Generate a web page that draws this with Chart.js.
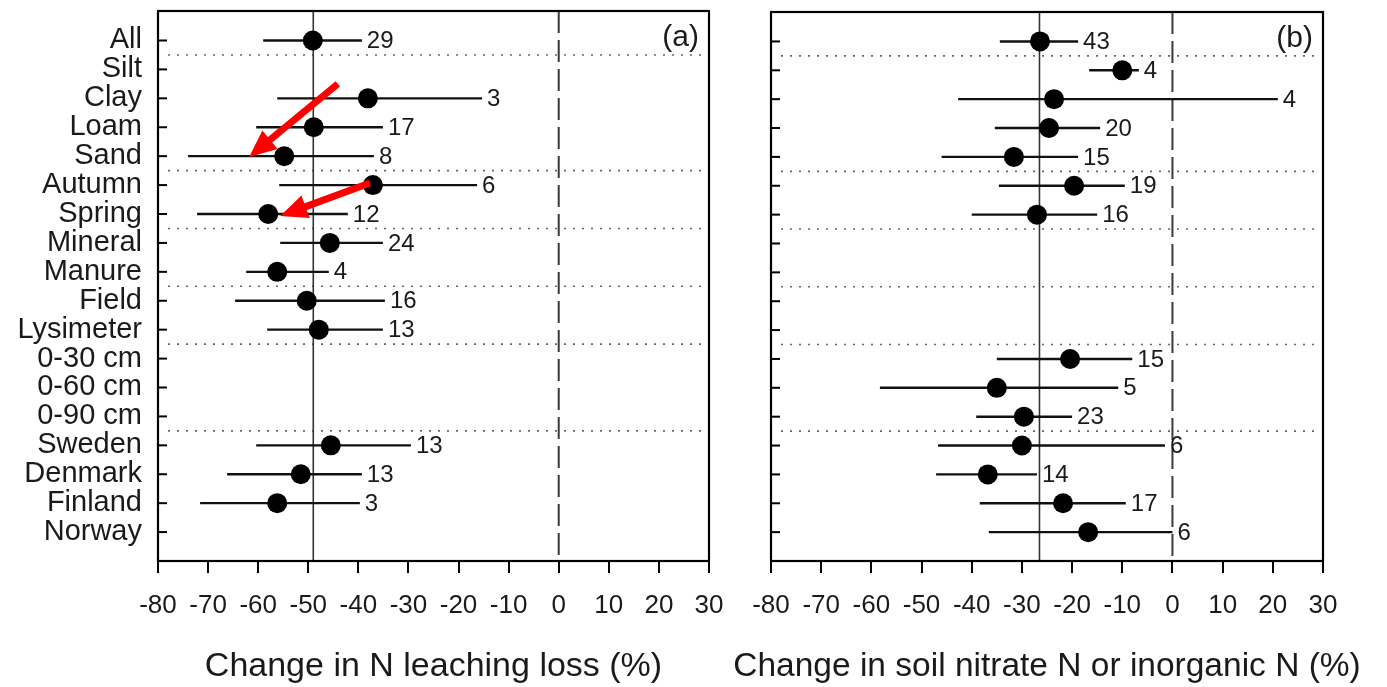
<!DOCTYPE html>
<html>
<head>
<meta charset="utf-8">
<script src="https://cdn.jsdelivr.net/npm/chart.js@4.4.1/dist/chart.umd.min.js"></script>
<style>
  html,body{margin:0;padding:0;background:#fff;}
  body{width:1387px;height:687px;position:relative;overflow:hidden;}
  canvas{position:absolute;top:0;}
</style>
</head>
<body>
<canvas id="ca" width="730" height="687" style="left:0px"></canvas>
<canvas id="cb" width="662" height="687" style="left:725px"></canvas>
<script>
// ---------- data ----------
const categories = ['All','Silt','Clay','Loam','Sand','Autumn','Spring','Mineral','Manure','Field','Lysimeter','0-30 cm','0-60 cm','0-90 cm','Sweden','Denmark','Finland','Norway'];
const xTicks = [-80,-70,-60,-50,-40,-30,-20,-10,0,10,20,30];
const groupBreaks = [0.5,4.5,6.5,8.5,10.5,13.5];

// (a) Change in N leaching loss (%)
const leachMean = [-49.1,null,-38.1,-48.9,-54.8,-37.1,-58.0,-45.7,-56.2,-50.3,-47.9,null,null,null,-45.5,-51.5,-56.2,null];
const leachLow  = [-59.0,null,-56.2,-60.4,-74.0,-55.8,-72.2,-55.6,-62.4,-64.6,-58.2,null,null,null,-60.4,-66.2,-71.6,null];
const leachHigh = [-39.3,null,-15.3,-35.1,-36.9,-16.3,-42.1,-35.1,-45.9,-34.7,-35.1,null,null,null,-29.5,-39.3,-39.7,null];
const leachN    = [29,null,3,17,8,6,12,24,4,16,13,null,null,null,13,13,3,null];
const leachOverall = -49;

// (b) Change in soil nitrate N or inorganic N (%)
const nitrateMean = [-26.4,-10.0,-23.6,-24.6,-31.6,-19.6,-27.0,null,null,null,null,-20.4,-35.0,-29.6,-30.0,-36.8,-21.8,-16.8];
const nitrateLow  = [-34.4,-16.6,-42.7,-35.4,-46.0,-34.6,-40.0,null,null,null,null,-35.0,-58.3,-39.1,-46.7,-47.1,-38.4,-36.6];
const nitrateHigh = [-18.8,-6.7,21.0,-14.4,-18.8,-9.5,-15.0,null,null,null,null,-8.0,-10.8,-20.0,-1.5,-27.0,-9.3,0.0];
const nitrateN    = [43,4,4,20,15,19,16,null,null,null,null,15,5,23,6,14,17,6];
const nitrateOverall = -26.5;

// red arrows on panel (a), in data units
const arrowsA = [
  {fromX:-44.1, fromY:1.50, toX:-61.8, toY:4.03},
  {fromX:-37.7, fromY:4.93, toX:-55.6, toY:6.07}
];

// ---------- drawing ----------
const FONT = "'Liberation Sans', Arial, sans-serif";
const TXT = '#1a1a1a';

function seg(ctx,x1,y1,x2,y2){ctx.beginPath();ctx.moveTo(x1,y1);ctx.lineTo(x2,y2);ctx.stroke();}

function decor(cfg){
  return {
    id:'decor_'+cfg.tag,
    beforeDatasetsDraw(chart){
      const {ctx, chartArea:a, scales:{x,y}} = chart;
      ctx.save();
      ctx.strokeStyle='#666'; ctx.lineWidth=1.6; ctx.setLineDash([2,7]);
      groupBreaks.forEach(b=>{const py=y.getPixelForValue(b); seg(ctx,a.left+10,py,a.right-4,py);});
      ctx.strokeStyle='#3a3a3a'; ctx.lineWidth=2; ctx.setLineDash([22,7]);
      const zx=x.getPixelForValue(0); seg(ctx,zx,a.top,zx,a.bottom);
      ctx.setLineDash([]); ctx.strokeStyle='#333'; ctx.lineWidth=1.6;
      const mx=x.getPixelForValue(cfg.overall); seg(ctx,mx,a.top,mx,a.bottom);
      ctx.strokeStyle='#111'; ctx.lineWidth=2.4;
      cfg.low.forEach((lo,i)=>{
        if(lo==null) return;
        const py=y.getPixelForValue(i);
        seg(ctx,x.getPixelForValue(lo),py,x.getPixelForValue(cfg.high[i]),py);
      });
      ctx.strokeStyle='#000'; ctx.lineWidth=2;
      categories.forEach((_,i)=>{const py=y.getPixelForValue(i); seg(ctx,a.left,py,a.left+9,py);});
      ctx.restore();
    },
    afterDatasetsDraw(chart){
      const {ctx, chartArea:a, scales:{x,y}} = chart;
      ctx.save();
      ctx.fillStyle=TXT; ctx.font='24px '+FONT; ctx.textAlign='left'; ctx.textBaseline='middle';
      cfg.n.forEach((n,i)=>{
        if(n==null) return;
        ctx.fillText(String(n), x.getPixelForValue(cfg.high[i])+5, y.getPixelForValue(i)+1);
      });
      ctx.font='30px '+FONT; ctx.textAlign='right';
      ctx.fillText(cfg.letter, a.right-10, a.top+27);
      (cfg.arrows||[]).forEach(ar=>{
        const x1=x.getPixelForValue(ar.fromX), y1=y.getPixelForValue(ar.fromY);
        const x2=x.getPixelForValue(ar.toX),   y2=y.getPixelForValue(ar.toY);
        const ang=Math.atan2(y2-y1,x2-x1), hl=27, hw=12;
        const bx=x2-hl*Math.cos(ang), by=y2-hl*Math.sin(ang);
        ctx.strokeStyle='#ff0000'; ctx.fillStyle='#ff0000'; ctx.lineWidth=7; ctx.lineCap='butt';
        seg(ctx,x1,y1,bx+2*Math.cos(ang),by+2*Math.sin(ang));
        ctx.beginPath();
        ctx.moveTo(x2,y2);
        ctx.lineTo(bx+hw*Math.sin(ang), by-hw*Math.cos(ang));
        ctx.lineTo(bx-hw*Math.sin(ang), by+hw*Math.cos(ang));
        ctx.closePath(); ctx.fill();
      });
      ctx.restore();
    },
    afterDraw(chart){
      const {ctx, chartArea:a} = chart;
      ctx.save();
      ctx.strokeStyle='#000'; ctx.lineWidth=2.2;
      ctx.strokeRect(a.left, a.top, a.right-a.left, a.bottom-a.top);
      ctx.fillStyle=TXT; ctx.font=cfg.titleSize+'px '+FONT;
      ctx.textAlign='center'; ctx.textBaseline='middle';
      ctx.fillText(cfg.title, (a.left+a.right)/2, chart.height-20.5);
      ctx.restore();
    }
  };
}

function makeChart(id, cfg){
  const pts=[];
  cfg.mean.forEach((v,i)=>{ if(v!=null) pts.push({x:v,y:i}); });
  return new Chart(document.getElementById(id),{
    type:'scatter',
    data:{datasets:[{data:pts, pointRadius:10, pointHoverRadius:10, backgroundColor:'#000', borderWidth:0}]},
    options:{
      responsive:false, animation:false,
      layout:{padding:{left:0,right:cfg.padRight,top:cfg.padTop,bottom:0}},
      plugins:{legend:{display:false}, tooltip:{enabled:false}},
      scales:{
        x:{
          type:'linear', min:-80, max:30,
          afterBuildTicks:s=>{ s.ticks = xTicks.map(v=>({value:v})); },
          ticks:{font:{family:FONT,size:26}, color:TXT, padding:17, maxRotation:0, autoSkip:false},
          grid:{drawOnChartArea:false, tickLength:12, color:'#000', lineWidth:2},
          border:{display:false},
          title:{display:false},
          afterFit:s=>{ s.height=126; s.paddingLeft=0; s.paddingRight=0; }
        },
        y:{
          type:'linear', reverse:true, min:-1.02, max:18,
          afterBuildTicks:s=>{ s.ticks = categories.map((_,i)=>({value:i})); },
          ticks:{font:{family:FONT,size:29}, color:TXT, padding:16, autoSkip:false,
                 callback:v=> cfg.showCats ? (categories[v] ?? '') : ''},
          grid:{display:true, drawOnChartArea:false, drawTicks:false},
          border:{display:false},
          afterFit:s=>{ s.width=cfg.yWidth; s.paddingTop=0; s.paddingBottom=0; }
        }
      }
    },
    plugins:[decor(cfg)]
  });
}

makeChart('ca',{tag:'a', mean:leachMean, low:leachLow, high:leachHigh, n:leachN, overall:leachOverall,
  title:'Change in N leaching loss (%)', titleSize:34, letter:'(a)', showCats:true, yWidth:158, padRight:21, padTop:11, arrows:arrowsA});
makeChart('cb',{tag:'b', mean:nitrateMean, low:nitrateLow, high:nitrateHigh, n:nitrateN, overall:nitrateOverall,
  title:'Change in soil nitrate N or inorganic N (%)', titleSize:33.5, letter:'(b)', showCats:false, yWidth:46, padRight:64, padTop:12, arrows:[]});
</script>
</body>
</html>
